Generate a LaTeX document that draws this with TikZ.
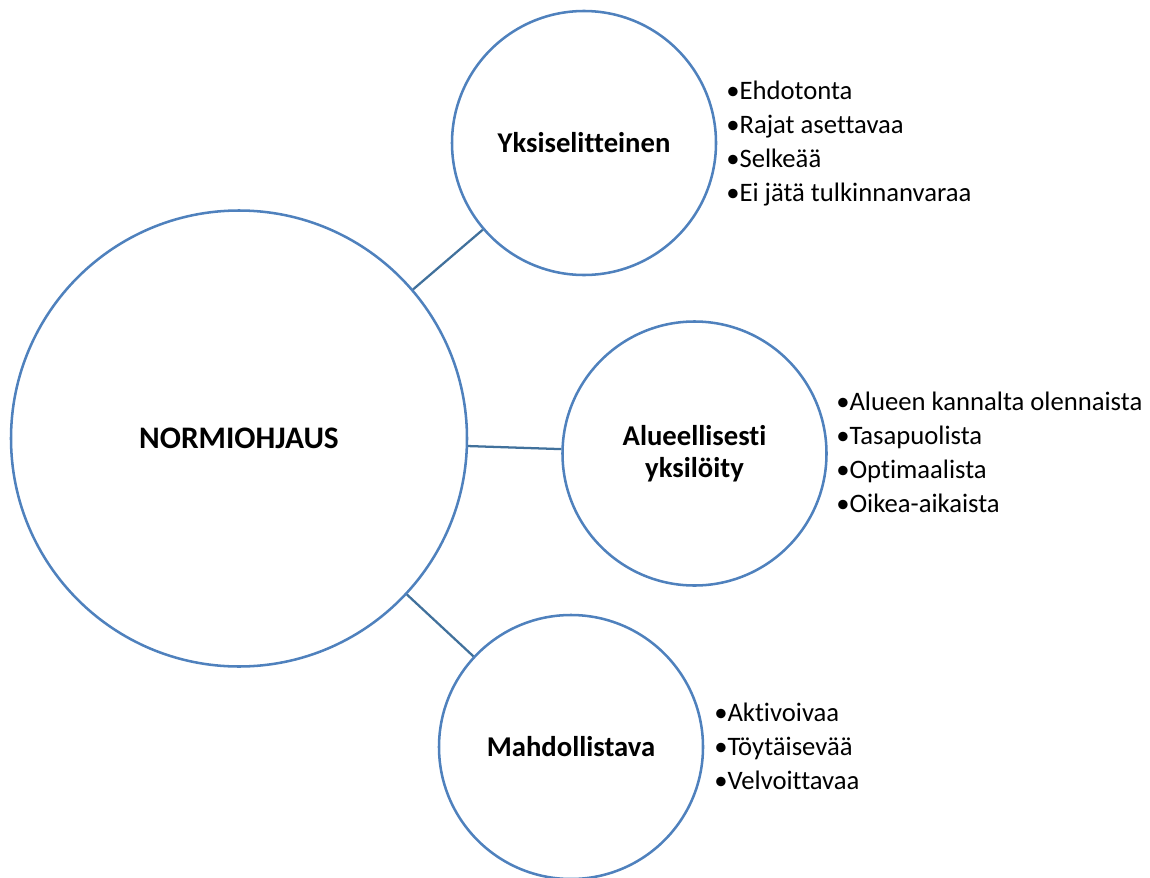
\documentclass[tikz,border=0pt]{standalone}
\usepackage{fontspec}
\setmainfont{Carlito}[Ligatures=NoCommon]
\definecolor{circ}{HTML}{4F81BD}
\definecolor{conn}{HTML}{41719C}
\begin{document}
\begin{tikzpicture}[x=0.75pt,y=-0.75pt,
  bigc/.style={circle,draw=circ,line width=1.9pt,minimum size=342pt,inner sep=0pt,
    font=\fontsize{23.5}{28}\selectfont\bfseries},
  smallc/.style={circle,draw=circ,line width=1.9pt,minimum size=198pt,inner sep=0pt,
    align=center,font=\fontsize{21.5}{24}\selectfont\bfseries},
  conn/.style={draw=conn,line width=1.7pt},
  blist/.style={anchor=west,inner sep=0pt,align=left,
    font=\fontsize{20}{25.5}\selectfont}]
\useasboundingbox (0,0) rectangle (1150,878);
\node[bigc] (main) at (239,438.5) {NORMIOHJAUS};
\node[smallc] (top) at (584,143) {Yksiselitteinen};
\node[smallc] (mid) at (694.5,453.5) {Alueellisesti\\yksilöity};
\node[smallc] (bot) at (571,747) {Mahdollistava};
\draw[conn] (main) -- (top);
\draw[conn] (main) -- (mid);
\draw[conn] (main) -- (bot);
\node[blist] (toplist) at (726,143.5) {•Ehdotonta\\•Rajat asettavaa\\•Selkeää\\•Ei jätä tulkinnanvaraa};
\node[blist] (midlist) at (836,452.5) {•Alueen kannalta olennaista\\•Tasapuolista\\•Optimaalista\\•Oikea-aikaista};
\node[blist] (botlist) at (714,746.5) {•Aktivoivaa\\•Töytäisevää\\•Velvoittavaa};
\end{tikzpicture}
\end{document}
